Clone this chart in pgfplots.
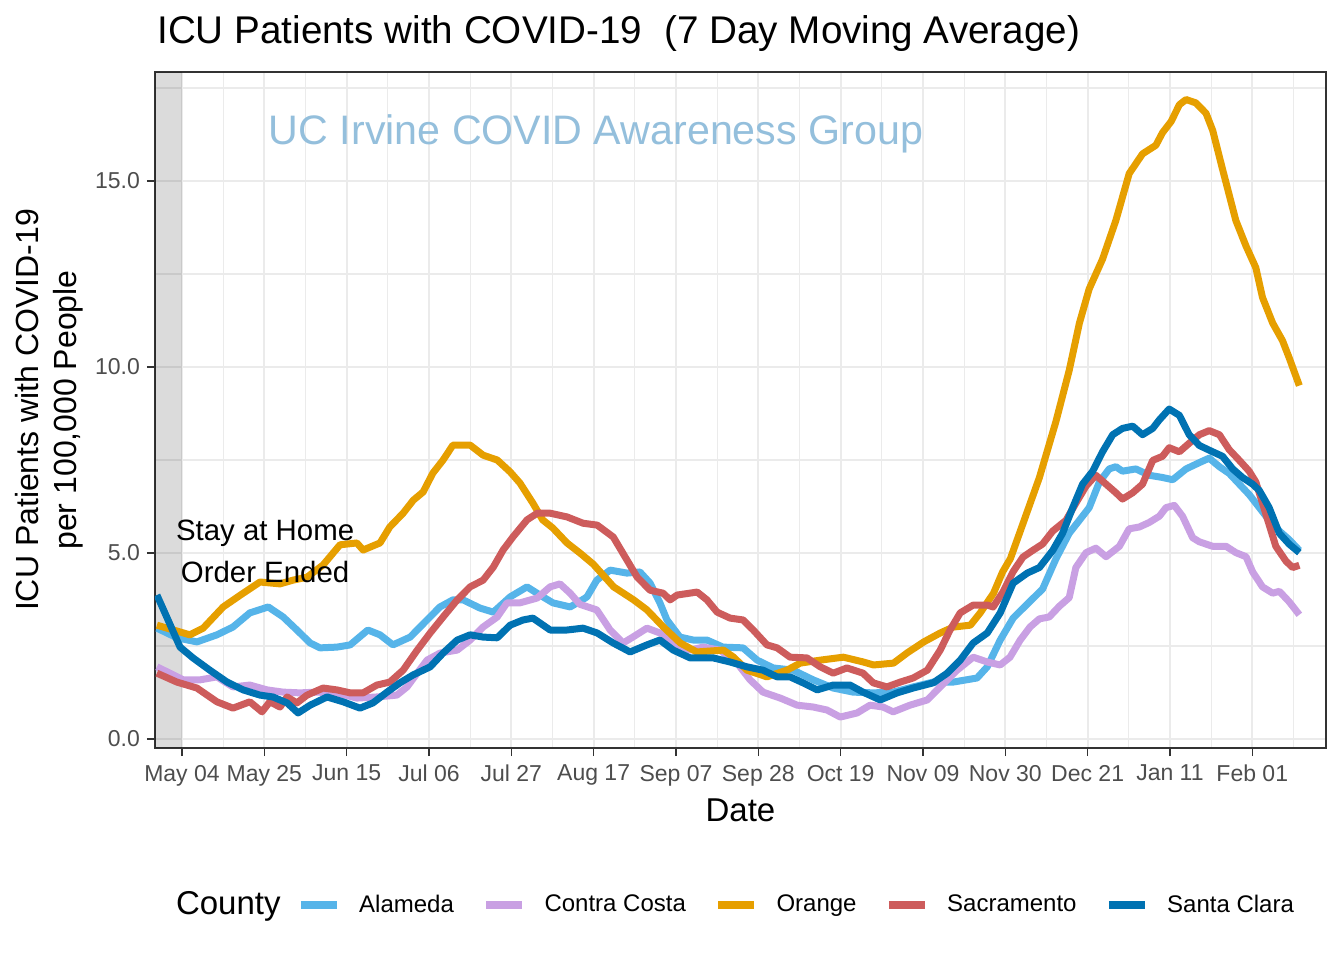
\documentclass[border=0pt]{standalone}
\usepackage{pgfplots}
\pgfplotsset{compat=1.18}
\usepackage{fontspec}
\setmainfont{Liberation Sans}
\definecolor{alameda}{HTML}{56B4E9}
\definecolor{contra}{HTML}{C9A0E3}
\definecolor{orangec}{HTML}{E69F00}
\definecolor{sacra}{HTML}{CD5C5C}
\definecolor{santa}{HTML}{0072B2}
\definecolor{gridc}{HTML}{EBEBEB}
\definecolor{frame}{HTML}{333333}
\definecolor{tickc}{HTML}{4D4D4D}
\definecolor{wmark}{HTML}{94BFDC}
\begin{document}
\begin{tikzpicture}
\begin{axis}[
  scale only axis, width=585.5pt, height=338pt,
  xmin=-6.89, xmax=291.8, ymin=-0.242, ymax=17.93,
  /pgf/number format/assume math mode=true,
  axis line style={color=frame, line width=0.7pt},
  xtick={0,21,42,63,84,105,126,147,168,189,210,231,252,273},
  xticklabels={May 04,May 25,Jun 15,Jul 06,Jul 27,Aug 17,Sep 07,Sep 28,Oct 19,Nov 09,Nov 30,Dec 21,Jan 11,Feb 01},
  minor xtick={10.5,31.5,52.5,73.5,94.5,115.5,136.5,157.5,178.5,199.5,220.5,241.5,262.5,283.5},
  ytick={0,5,10,15}, yticklabels={0.0,5.0,10.0,15.0},
  minor ytick={2.5,7.5,12.5,17.5},
  grid=both,
  major grid style={color=gridc, line width=1.1pt},
  minor grid style={color=gridc, line width=0.6pt},
  tick align=outside, major tick length=4pt, minor tick length=0pt,
  tick style={color=frame, line width=0.6pt},
  xtick pos=bottom, ytick pos=left,
  ticklabel style={font=\fontsize{11.5}{12}\selectfont, color=tickc},
  xticklabel style={yshift=-1pt},
  xlabel={Date},
  xlabel style={font=\fontsize{16.5}{18}\selectfont, at={(axis description cs:0.5,-0.0917)}, anchor=center},
  ylabel={ICU Patients with COVID-19\\per 100,000 People},
  ylabel style={font=\fontsize{16}{19}\selectfont, align=center, at={(axis description cs:-0.0905,0.5)}, anchor=center},
  legend columns=6,
  legend style={draw=none, fill=none, at={(axis description cs:0.4893,-0.2322)}, anchor=center,
    font=\fontsize{12}{12}\selectfont,
    /tikz/every even column/.append style={column sep=12pt},
    /tikz/every odd column/.append style={column sep=7pt}},
  legend cell align=left,
  legend image code/.code={\draw[#1, line width=4.3pt, line cap=butt] (0pt,0pt) -- (18pt,0pt);},
  every axis plot/.append style={line width=3.5pt, line join=round},
]
\addplot[draw=none, fill=black, fill opacity=0.14, forget plot] coordinates {(-6.89,-0.242) (0,-0.242) (0,17.93) (-6.89,17.93)} -- cycle;
\addlegendimage{empty legend}
\addlegendentry{\fontsize{16.5}{17}\selectfont County\kern-6pt}
\addplot[color=alameda] coordinates {(-6.4,2.98) (-1.3,2.72) (3.8,2.61) (8.9,2.80) (13,3.01) (17.3,3.39) (22,3.55) (25.8,3.28) (29.3,2.93) (32.7,2.58) (35.2,2.45) (39.5,2.47) (42.9,2.53) (47.4,2.93) (50.5,2.80) (53.8,2.53) (58.2,2.74) (62.5,3.2) (65.8,3.55) (69.1,3.74) (71.7,3.74) (76,3.52) (79.4,3.41) (83.7,3.82) (88,4.09) (91.3,3.87) (94.6,3.66) (99,3.55) (101.5,3.70) (103.3,3.82) (105.8,4.27) (109.2,4.54) (113.5,4.46) (116.8,4.49) (119.4,4.19) (121.9,3.66) (123.7,3.2) (127,2.74) (130.4,2.66) (133.9,2.66) (138,2.47) (143.1,2.45) (146.7,2.12) (150.8,1.91) (155.9,1.85) (161,1.59) (166.1,1.37) (171.2,1.26) (176.3,1.24) (181.4,1.26) (186.5,1.4) (191.6,1.53) (196.7,1.53) (202.8,1.64) (205.4,1.94) (208.7,2.66) (212,3.25) (216.1,3.68) (219.5,4.03) (222.9,4.84) (226.3,5.53) (228.9,5.88) (231.4,6.22) (234,6.91) (236.5,7.26) (238.2,7.32) (239.9,7.2) (243.3,7.26) (246.7,7.09) (250.1,7.03) (252.7,6.97) (256.1,7.26) (259.5,7.43) (262,7.55) (264.6,7.32) (267.1,7.14) (269.7,6.85) (272.2,6.57) (274.8,6.22) (277.3,5.88) (279.9,5.59) (282.4,5.36) (285,5.07)};
\addlegendentry{Alameda}
\addplot[color=contra] coordinates {(-6.4,1.94) (-3.1,1.77) (0.3,1.59) (4.6,1.59) (8.9,1.67) (13,1.40) (17.3,1.45) (21.7,1.32) (25.8,1.26) (30.1,1.24) (34.4,1.26) (39.5,1.24) (44.6,1.10) (49.7,1.13) (54.8,1.18) (57.4,1.40) (60,1.77) (62.5,2.12) (65.8,2.31) (70.2,2.39) (73.5,2.66) (76.8,3.01) (80.4,3.28) (82.9,3.66) (86.2,3.66) (90.6,3.79) (93.9,4.09) (96.4,4.17) (99,3.92) (101.5,3.62) (105.8,3.47) (109.2,2.93) (112.5,2.58) (115,2.74) (118.6,2.98) (121.9,2.85) (125.3,2.58) (129.6,2.39) (132.9,2.47) (137.2,2.39) (141.6,2.04) (144.9,1.59) (148.2,1.26) (152.6,1.1) (156.9,0.91) (161,0.86) (164.5,0.78) (167.9,0.59) (172.2,0.70) (175.5,0.91) (178.8,0.86) (181.4,0.73) (185.7,0.91) (190.1,1.05) (193.4,1.40) (197.7,1.85) (201.8,2.2) (205.4,2.07) (208.7,1.99) (211.2,2.2) (213.8,2.66) (216.3,3.01) (218.7,3.23) (221.2,3.28) (223.8,3.57) (226.3,3.80) (228,4.61) (230.6,5.01) (233.1,5.13) (235.7,4.90) (239.1,5.18) (241.6,5.65) (244.2,5.70) (246.7,5.82) (249.3,5.99) (251,6.22) (253.1,6.28) (255.2,5.99) (257.8,5.41) (259.5,5.30) (262.9,5.18) (266.3,5.18) (268.8,5.01) (271.4,4.90) (273.1,4.49) (275.6,4.09) (278.2,3.92) (279.9,3.97) (282.4,3.69) (285,3.34)};
\addlegendentry{Contra Costa}
\addplot[color=orangec] coordinates {(-6.4,3.06) (2,2.80) (5.4,2.98) (10.5,3.55) (15.6,3.92) (19.9,4.22) (25,4.17) (28.3,4.27) (31.9,4.35) (36,4.68) (40.3,5.22) (44.6,5.27) (46.2,5.08) (50.5,5.27) (53,5.70) (56.4,6.07) (59,6.42) (61.5,6.64) (64,7.15) (66.6,7.5) (69.1,7.9) (73.5,7.9) (76.8,7.63) (80.4,7.5) (83.7,7.18) (86.2,6.88) (89.5,6.34) (92,5.89) (94.6,5.67) (98.2,5.27) (101.5,5.0) (104.9,4.7) (110.1,4.09) (115.2,3.74) (118.6,3.47) (122.8,3.01) (127.1,2.58) (131.3,2.34) (138.1,2.39) (140.7,2.2) (144.1,1.85) (149.2,1.67) (154.3,1.85) (157.7,2.04) (162.8,2.12) (168.7,2.2) (173.8,2.07) (176.4,1.99) (181.5,2.04) (184.9,2.31) (189.2,2.61) (193.4,2.85) (196.8,3.01) (201.1,3.06) (203.6,3.39) (207,3.92) (209.3,4.49) (211.3,4.85) (214.4,5.76) (218.7,7.03) (222.9,8.53) (226.3,9.91) (228.9,11.18) (231.4,12.1) (234.8,12.9) (238.2,13.94) (241.6,15.2) (245,15.73) (248.4,15.96) (250.1,16.3) (252.3,16.6) (254.4,17.05) (256.1,17.19) (258.6,17.1) (261.2,16.82) (262.9,16.36) (265.4,15.32) (268.8,13.94) (271.4,13.25) (273.9,12.67) (275.6,11.87) (278.2,11.18) (280.7,10.71) (282.4,10.25) (285,9.5)};
\addlegendentry{Orange}
\addplot[color=sacra] coordinates {(-6.4,1.77) (-1.3,1.53) (3.8,1.37) (8.9,1.0) (13,0.83) (17.3,1.0) (20.4,0.73) (22.4,1.0) (25,0.86) (26.8,1.13) (29.3,0.97) (31.9,1.18) (36,1.37) (39.5,1.32) (42.9,1.24) (46.2,1.24) (49.7,1.45) (53,1.53) (56.4,1.85) (60,2.39) (63.3,2.85) (66.6,3.28) (70.2,3.74) (73.5,4.09) (76.8,4.27) (79.4,4.62) (81.9,5.08) (84.4,5.43) (88,5.89) (90.6,6.07) (93.9,6.07) (98.2,5.97) (102.3,5.8) (105.9,5.75) (110,5.43) (113.5,4.81) (116.1,4.35) (119.4,4.0) (122.7,3.92) (124.5,3.74) (126.3,3.87) (131.4,3.95) (133.9,3.74) (136.5,3.41) (139.8,3.25) (143.1,3.2) (145.7,2.93) (149.2,2.53) (151.8,2.45) (155.1,2.2) (159.4,2.18) (162.8,1.94) (166.1,1.77) (169.6,1.91) (173.7,1.77) (176.3,1.51) (179.8,1.4) (183.2,1.53) (186.5,1.64) (190.1,1.85) (193.4,2.39) (195.9,2.93) (198.5,3.39) (201.8,3.6) (205.4,3.6) (206.9,3.55) (209.4,3.95) (212,4.5) (214.5,4.89) (217,5.07) (219.5,5.24) (222.1,5.59) (225.5,5.88) (228,6.34) (230.6,6.80) (233.1,7.09) (235.7,6.85) (238.2,6.62) (239.9,6.45) (242.5,6.62) (245,6.85) (247.6,7.49) (250.1,7.60) (251.8,7.83) (254.4,7.72) (256.9,7.95) (259.5,8.18) (262,8.29) (264.6,8.18) (267.1,7.78) (269.7,7.49) (272.2,7.2) (273.9,6.91) (275.6,6.34) (277.3,5.76) (279,5.18) (281.6,4.78) (283.3,4.61) (285,4.67)};
\addlegendentry{Sacramento}
\addplot[color=santa] coordinates {(-6.4,3.87) (-3.9,3.28) (-0.5,2.47) (2.8,2.18) (7.1,1.85) (11.5,1.53) (15.6,1.32) (19.9,1.18) (23.2,1.13) (26.8,0.97) (29.6,0.70) (32.7,0.91) (37,1.13) (41.1,1.0) (45.4,0.83) (48.7,0.97) (52.3,1.26) (55.6,1.51) (58.9,1.72) (63.3,1.94) (66.6,2.31) (70.2,2.66) (73.5,2.80) (76.8,2.74) (80.4,2.72) (83.7,3.06) (87,3.2) (89.5,3.25) (93.9,2.93) (98.2,2.93) (102.3,2.98) (105.9,2.85) (110,2.58) (114.3,2.34) (118.6,2.53) (121.9,2.66) (125.3,2.39) (129.6,2.18) (135.5,2.18) (139.8,2.07) (144.1,1.94) (148.2,1.85) (151.8,1.67) (155.1,1.67) (158.4,1.51) (162,1.32) (166.1,1.45) (170.4,1.45) (173.7,1.26) (178.1,1.05) (182.4,1.24) (186.5,1.37) (191.6,1.51) (195.2,1.77) (198.5,2.12) (201.8,2.58) (205.4,2.85) (208.7,3.39) (212,4.19) (215.6,4.46) (218.7,4.61) (222.1,5.07) (224.6,5.53) (227.2,6.22) (229.7,6.85) (232.3,7.2) (234.8,7.72) (237.4,8.18) (239.9,8.35) (242.5,8.41) (245,8.18) (247.6,8.35) (249.3,8.58) (251.8,8.87) (254.4,8.70) (256.9,8.18) (259.5,7.89) (262.9,7.72) (265.4,7.60) (268,7.26) (270.5,7.03) (273.1,6.85) (274.8,6.68) (277.3,6.22) (279.9,5.53) (282.4,5.24) (285,5.01)};
\addlegendentry{Santa Clara}
\node[font=\fontsize{20.6}{24}\selectfont, color=wmark] at (axis cs:105.6,16.26) {UC Irvine COVID Awareness Group};
\node[font=\fontsize{14.7}{21}\selectfont, align=center, color=black] at (axis cs:21.2,5.05) {Stay at Home\\Order Ended};
\end{axis}
\node[anchor=west, font=\fontsize{19.3}{20}\selectfont, inner sep=0pt] at ([xshift=1pt, yshift=19pt]current axis.north west) {ICU Patients with COVID-19\hspace{0.3em} (7 Day Moving Average)};
\path ([shift={(-77.5pt,-106pt)}]current axis.south west) rectangle ([shift={(9pt,36pt)}]current axis.north east);
\end{tikzpicture}
\end{document}
